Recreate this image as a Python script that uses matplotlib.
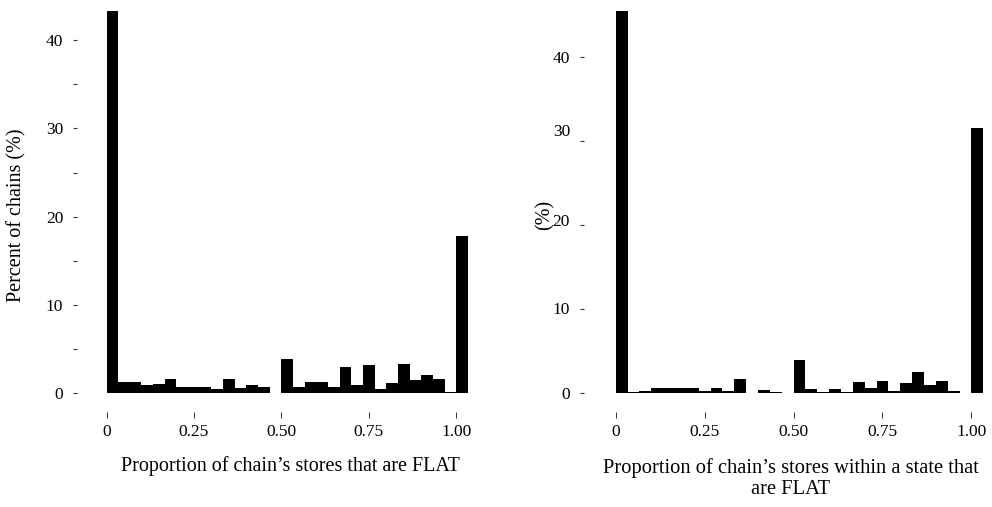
"""
Two histograms of FLAT store share per chain (overall and within state).
"""
import matplotlib
matplotlib.use("Agg")
import matplotlib.pyplot as plt
import matplotlib.transforms as mtransforms
import numpy as np

# bin width 1/30, bins start at 0 (last bin starts at 1.00)
bin_width = 1 / 30
bin_left = np.arange(31) * bin_width

# percent of chains
overall_pct = [43.3, 1.25, 1.25, 0.94, 1.06, 1.62, 0.68, 0.68, 0.68, 0.45,
               1.62, 0.64, 0.94, 0.68, 0.0, 3.89, 0.75, 1.28, 1.28, 0.68,
               2.98, 0.94, 3.2, 0.49, 1.17, 3.32, 1.5, 2.08, 1.62, 0.15, 17.85]
state_pct = [45.5, 0.16, 0.32, 0.63, 0.63, 0.63, 0.63, 0.32, 0.63, 0.32,
             1.7, 0.04, 0.43, 0.16, 0.0, 3.95, 0.55, 0.2, 0.55, 0.16,
             1.38, 0.63, 1.5, 0.32, 1.23, 2.57, 0.99, 1.5, 0.32, 0.0, 31.6]

x_ticks = [0, 0.25, 0.5, 0.75, 1.0]
x_ticklabels = ["0", "0.25", "0.50", "0.75", "1.00"]
y_ticks = [0, 10, 20, 30, 40]
y_minor_left = [5, 15, 25, 35]

left_xlabel = "Proportion of chain\u2019s stores that are FLAT"
right_xlabel = "Proportion of chain\u2019s stores within a state that\nare FLAT"
left_ylabel = "Percent of chains (%)"
right_ylabel = "(%)"

W, H = 992, 507
plt.rcParams["font.family"] = ["Liberation Serif", "DejaVu Serif"]
fig = plt.figure(figsize=(W / 100, H / 100), dpi=100)


def make_axes(x0_px, xscale, xlim, y0_px, yscale, ylim):
    left = x0_px + xlim[0] * xscale
    right = x0_px + xlim[1] * xscale
    bottom = y0_px - ylim[0] * yscale
    top = y0_px - ylim[1] * yscale
    ax = fig.add_axes([left / W, 1 - bottom / H, (right - left) / W,
                       (bottom - top) / H])
    ax.set_xlim(*xlim)
    ax.set_ylim(*ylim)
    return ax, left, right - left


def style(ax, outward):
    for s in ax.spines.values():
        s.set_visible(False)
    ax.spines["left"].set_position(("outward", outward))
    ax.set_xticks(x_ticks, x_ticklabels)
    ax.set_yticks(y_ticks)
    ax.tick_params(axis="x", direction="out", length=4.3, width=0.7,
                   color="#333333", pad=4, labelsize=12.5)
    ax.tick_params(axis="y", which="both", direction="out", length=3,
                   width=0.8, color="#333333", pad=7, labelsize=12.5)
    ax.patch.set_visible(False)


# left panel
axl, l_left, l_w = make_axes(106.5, 349.7, (-0.0517, 1.085),
                             393.3, 8.83, (-2.12, 44.5))
axl.bar(bin_left, overall_pct, width=bin_width, align="edge",
        color="black", linewidth=0)
style(axl, 8.2)
axl.set_yticks(y_minor_left, minor=True)
axl.set_xlabel(left_xlabel, fontsize=14.5, va="center")
axl.xaxis.set_label_coords((290 - l_left) / l_w, (412 - 466) / 411.6)
axl.set_ylabel(left_ylabel, fontsize=14.5, va="center")
axl.yaxis.set_label_coords((17 - l_left) / l_w, (412 - 215) / 411.6)

# right panel
axr, r_left, r_w = make_axes(615.7, 355.7, (-0.0517, 1.058),
                             393.3, 8.4, (-2.27, 46.8))
axr.bar(bin_left, state_pct, width=bin_width, align="edge",
        color="black", linewidth=0)
style(axr, 9.6)
axr.set_xlabel(right_xlabel, fontsize=14.8, va="center", linespacing=1.2)
axr.xaxis.set_label_coords((791 - r_left) / r_w, (412 - 478) / 411.6)
axr.set_ylabel(right_ylabel, fontsize=14.5, va="center")
axr.yaxis.set_label_coords((545 - r_left) / r_w, (412 - 215) / 411.6)

# labels on this panel sit a little above their ticks
shift_px = {10: 1, 20: 5, 30: 11}
for tick, val in zip(axr.yaxis.get_major_ticks(), y_ticks):
    if val in shift_px:
        off = mtransforms.ScaledTranslation(0, shift_px[val] / 100,
                                            fig.dpi_scale_trans)
        tick.label1.set_transform(tick.label1.get_transform() + off)

fig.savefig("out.png", dpi=100)
